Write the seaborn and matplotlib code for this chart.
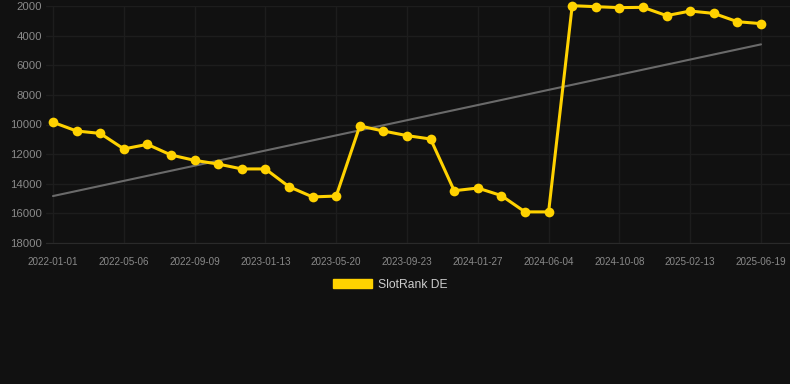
import matplotlib
matplotlib.use("Agg")
import matplotlib.pyplot as plt
import seaborn as sns
import pandas as pd
from matplotlib.patches import Patch

# ---- data ----
tick_labels = ["2022-01-01", "2022-05-06", "2022-09-09", "2023-01-13", "2023-05-20",
               "2023-09-23", "2024-01-27", "2024-06-04", "2024-10-08", "2025-02-13",
               "2025-06-19"]
rank_values = [9850, 10440, 10600, 11650, 11340, 12060, 12420, 12670, 13000, 13000,
               14200, 14890, 14830, 10100, 10440, 10750, 10980, 14470, 14290, 14800,
               15900, 15900, 1980, 2045, 2110, 2090, 2650, 2340, 2500, 3060, 3190]
trend_ends = [14830, 4590]
series_name = "SlotRank DE"

BG = "#111111"
YELLOW = "#FFD200"

sns.set_theme(style="dark")
plt.rcParams["font.family"] = ["Liberation Sans", "DejaVu Sans"]

fig = plt.figure(figsize=(7.9, 3.84), dpi=100, facecolor=BG)
ax = fig.add_axes([46 / 790, (384 - 243) / 384, 1 - 46 / 790, (243 - 6) / 384])
ax.set_facecolor(BG)

idx = list(range(len(rank_values)))
df = pd.DataFrame({"idx": idx, "rank": rank_values})
trend_df = pd.DataFrame({"idx": [idx[0], idx[-1]], "rank": trend_ends})

sns.lineplot(data=trend_df, x="idx", y="rank", ax=ax, color="#6a6a6a", linewidth=1.5,
             zorder=2)
sns.lineplot(data=df, x="idx", y="rank", ax=ax, color=YELLOW, linewidth=2.2,
             marker="o", markersize=7, markeredgecolor=YELLOW, markeredgewidth=0,
             zorder=3, clip_on=False)

ax.set_xlim(-7 / 23.6, idx[-1] + 29 / 23.6)
ax.set_ylim(18000, 2000)
ax.set_yticks(list(range(2000, 18001, 2000)))
ax.set_yticklabels([str(v) for v in range(2000, 18001, 2000)])
ax.set_xticks(idx[::3])
ax.set_xticklabels(tick_labels)

ax.grid(True, color="#1d1d1d", linewidth=1.0)
ax.set_axisbelow(True)
for side in ["top", "right", "left"]:
    ax.spines[side].set_visible(False)
ax.spines["bottom"].set_color("#2a2a2a")
ax.spines["bottom"].set_linewidth(0.8)

ax.tick_params(axis="y", length=0, pad=3, labelsize=8.2, labelcolor="#8a8a8a")
ax.tick_params(axis="x", length=4, width=0.8, color="#2a2a2a", pad=6,
               labelsize=7.1, labelcolor="#8a8a8a")
ax.set_xlabel("")
ax.set_ylabel("")
if ax.get_legend() is not None:
    ax.get_legend().remove()

handle = Patch(facecolor=YELLOW, edgecolor=YELLOW, label=series_name)
leg = fig.legend(handles=[handle], loc="center", bbox_to_anchor=(0.494, 0.258),
                 frameon=False, fontsize=8.7, handlelength=3.25, handleheight=0.83,
                 handletextpad=0.5)
for t in leg.get_texts():
    t.set_color("#cccccc")

fig.savefig("out.png", dpi=100, facecolor=BG)
